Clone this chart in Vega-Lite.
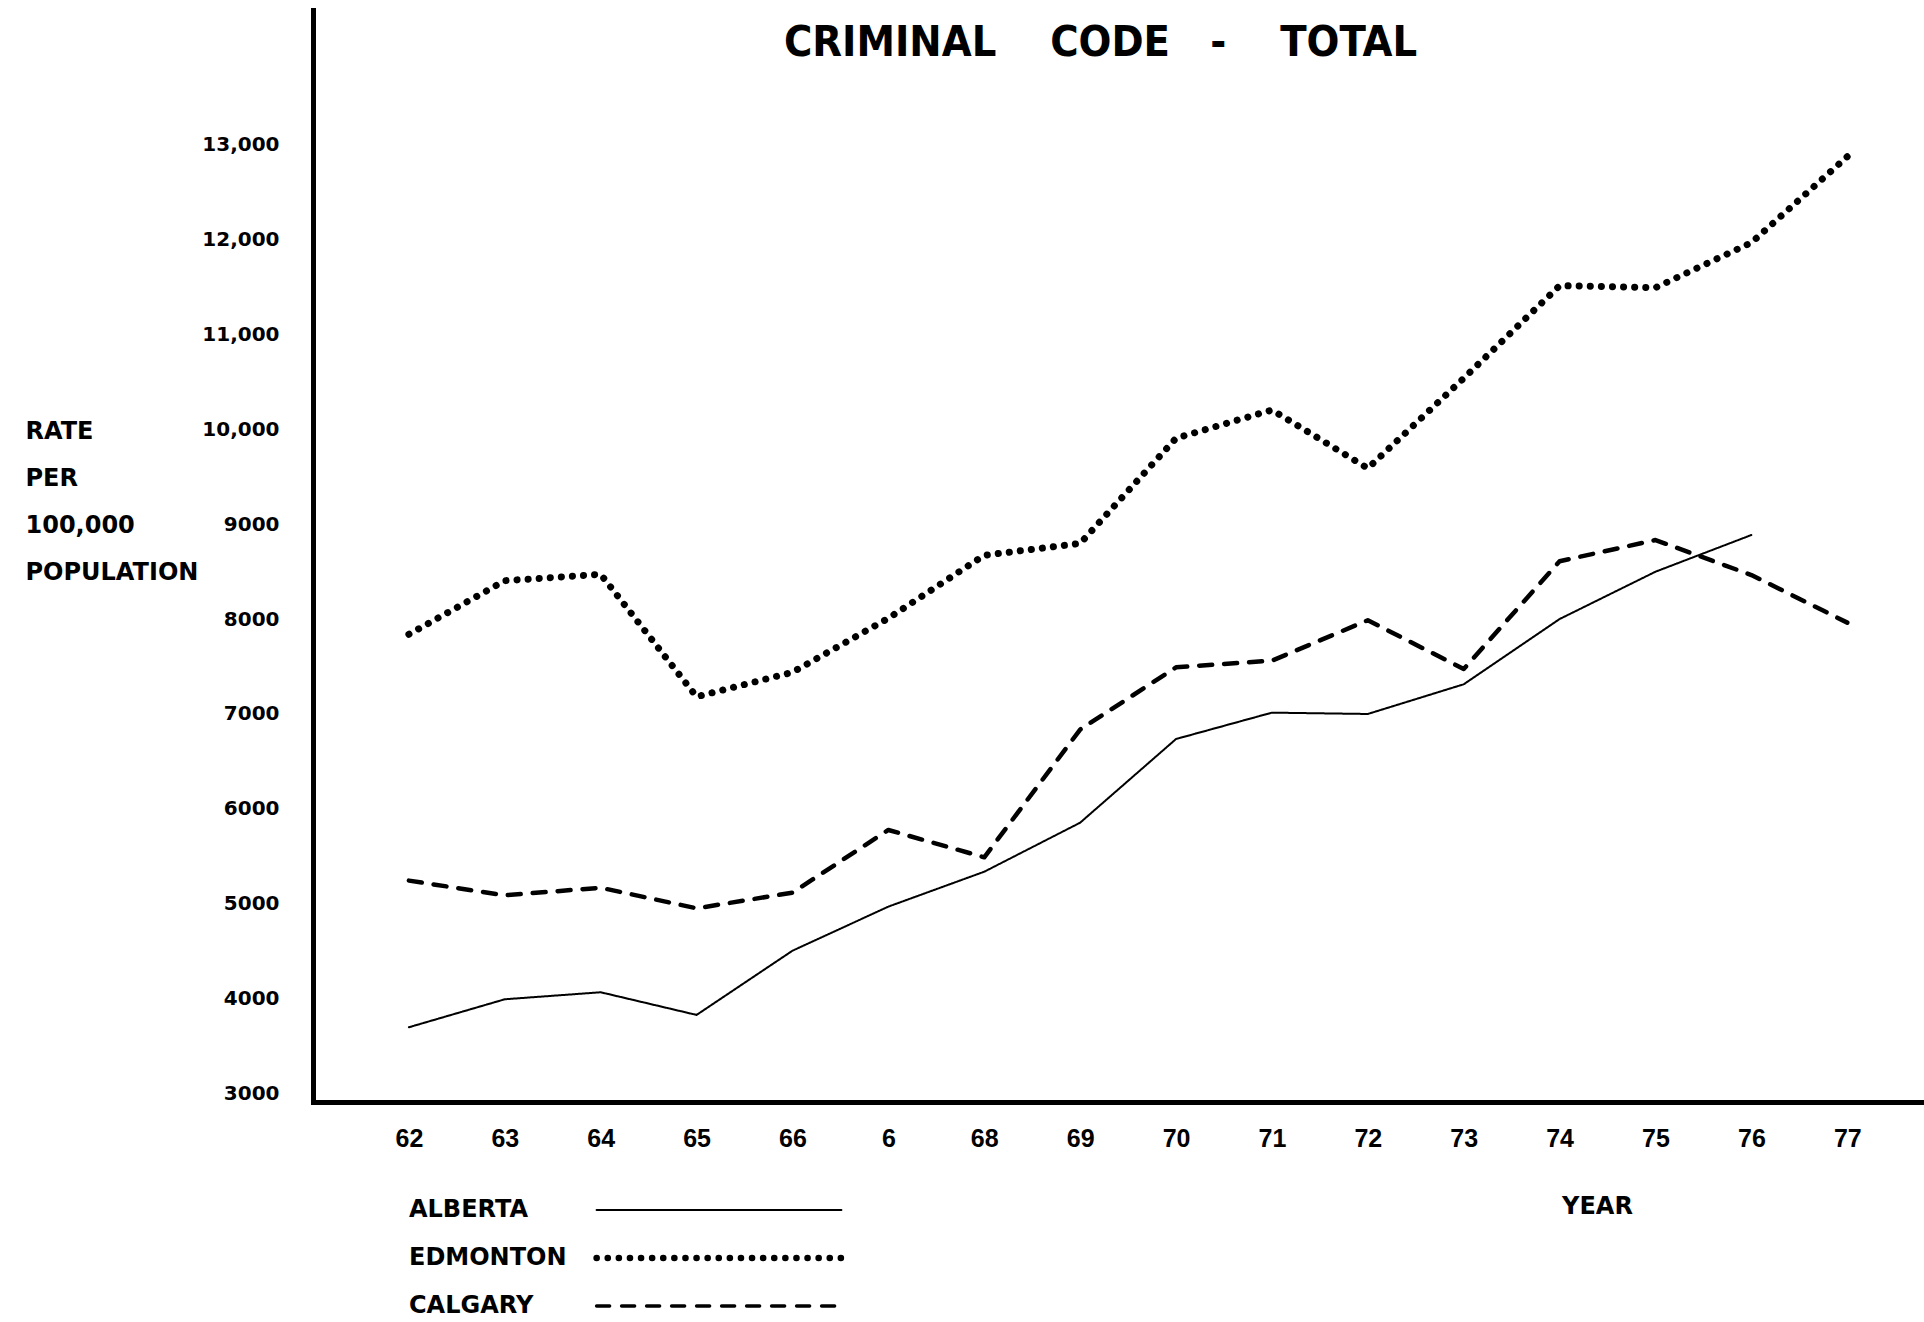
{
  "$schema": "https://vega.github.io/schema/vega-lite/v6.json",
  "width": 1611,
  "height": 1092,
  "autosize": {"type": "none"},
  "padding": {"left": 313, "top": 10, "right": 0, "bottom": 220},
  "background": "white",
  "title": {
    "text": "CRIMINAL\u00a0\u00a0\u00a0\u00a0CODE\u00a0\u00a0\u00a0-\u00a0\u00a0\u00a0\u00a0TOTAL",
    "font": "Liberation Sans Narrow, DejaVu Sans Condensed, Liberation Sans",
    "fontWeight": "bold",
    "fontSize": 43,
    "color": "black",
    "anchor": "middle",
    "frame": "group",
    "offset": -76,
    "baseline": "middle",
    "dx": -18
  },
  "config": {
    "view": {"stroke": null},
    "axis": {"grid": false, "ticks": false, "domainColor": "black", "domainWidth": 5, "domainCap": "square", "labelColor": "black", "titleColor": "black"}
  },
  "data": {
    "values": [
      {"year": 62, "series": "ALBERTA", "rate": 3696},
      {"year": 63, "series": "ALBERTA", "rate": 3991},
      {"year": 64, "series": "ALBERTA", "rate": 4065},
      {"year": 65, "series": "ALBERTA", "rate": 3826},
      {"year": 66, "series": "ALBERTA", "rate": 4503},
      {"year": 67, "series": "ALBERTA", "rate": 4968},
      {"year": 68, "series": "ALBERTA", "rate": 5336},
      {"year": 69, "series": "ALBERTA", "rate": 5853},
      {"year": 70, "series": "ALBERTA", "rate": 6735},
      {"year": 71, "series": "ALBERTA", "rate": 7013},
      {"year": 72, "series": "ALBERTA", "rate": 6999},
      {"year": 73, "series": "ALBERTA", "rate": 7312},
      {"year": 74, "series": "ALBERTA", "rate": 8000},
      {"year": 75, "series": "ALBERTA", "rate": 8499},
      {"year": 76, "series": "ALBERTA", "rate": 8886},
      {"year": 62, "series": "EDMONTON", "rate": 7839},
      {"year": 63, "series": "EDMONTON", "rate": 8404},
      {"year": 64, "series": "EDMONTON", "rate": 8472},
      {"year": 65, "series": "EDMONTON", "rate": 7181},
      {"year": 66, "series": "EDMONTON", "rate": 7439},
      {"year": 67, "series": "EDMONTON", "rate": 8008},
      {"year": 68, "series": "EDMONTON", "rate": 8672},
      {"year": 69, "series": "EDMONTON", "rate": 8797},
      {"year": 70, "series": "EDMONTON", "rate": 9906},
      {"year": 71, "series": "EDMONTON", "rate": 10204},
      {"year": 72, "series": "EDMONTON", "rate": 9589},
      {"year": 73, "series": "EDMONTON", "rate": 10538},
      {"year": 74, "series": "EDMONTON", "rate": 11515},
      {"year": 75, "series": "EDMONTON", "rate": 11494},
      {"year": 76, "series": "EDMONTON", "rate": 11968},
      {"year": 77, "series": "EDMONTON", "rate": 12875},
      {"year": 62, "series": "CALGARY", "rate": 5242},
      {"year": 63, "series": "CALGARY", "rate": 5087},
      {"year": 64, "series": "CALGARY", "rate": 5167},
      {"year": 65, "series": "CALGARY", "rate": 4950},
      {"year": 66, "series": "CALGARY", "rate": 5115},
      {"year": 67, "series": "CALGARY", "rate": 5776},
      {"year": 68, "series": "CALGARY", "rate": 5488},
      {"year": 69, "series": "CALGARY", "rate": 6835},
      {"year": 70, "series": "CALGARY", "rate": 7491},
      {"year": 71, "series": "CALGARY", "rate": 7561},
      {"year": 72, "series": "CALGARY", "rate": 7987},
      {"year": 73, "series": "CALGARY", "rate": 7473},
      {"year": 74, "series": "CALGARY", "rate": 8609},
      {"year": 75, "series": "CALGARY", "rate": 8833},
      {"year": 76, "series": "CALGARY", "rate": 8464},
      {"year": 77, "series": "CALGARY", "rate": 7962}
    ]
  },
  "encoding": {
    "x": {
      "field": "year",
      "type": "quantitative",
      "scale": {"domain": [61, 77.8], "nice": false, "zero": false},
      "axis": {
        "values": [62, 63, 64, 65, 66, 67, 68, 69, 70, 71, 72, 73, 74, 75, 76, 77],
        "labelExpr": "datum.value == 67 ? '6' : format(datum.value, 'd')",
        "labelFont": "Liberation Sans",
        "labelFontWeight": "bold",
        "labelFontSize": 25,
        "labelPadding": 24,
        "labelFlush": false,
        "labelOverlap": false,
        "title": "YEAR",
        "titleX": 1284,
        "titleY": 104,
        "titleFont": "DejaVu Sans",
        "titleFontWeight": "bold",
        "titleFontSize": 24,
        "titleBaseline": "middle",
        "titleAlign": "center"
      }
    },
    "y": {
      "field": "rate",
      "type": "quantitative",
      "scale": {"domain": [2908, 14421], "nice": false, "zero": false},
      "axis": {
        "values": [3000, 4000, 5000, 6000, 7000, 8000, 9000, 10000, 11000, 12000, 13000],
        "labelExpr": "datum.value >= 10000 ? format(datum.value, ',') : format(datum.value, 'd')",
        "labelFont": "DejaVu Sans",
        "labelFontWeight": "bold",
        "labelFontSize": 20,
        "labelPadding": 34,
        "labelBaseline": "middle",
        "title": ["RATE", "PER", "100,000", "POPULATION"],
        "titleAngle": 0,
        "titleAlign": "left",
        "titleBaseline": "middle",
        "titleLineHeight": 47,
        "titleX": -288,
        "titleY": 421,
        "titleFont": "DejaVu Sans",
        "titleFontWeight": "bold",
        "titleFontSize": 24
      }
    },
    "strokeDash": {
      "field": "series",
      "type": "nominal",
      "scale": {"domain": ["ALBERTA", "EDMONTON", "CALGARY"], "range": [[1, 0], [0.1, 11], [13, 12]]},
      "legend": {
        "orient": "none",
        "legendX": 285,
        "legendY": 1188,
        "title": null,
        "direction": "vertical",
        "symbolType": "M -10.2 0 L 10.2 0",
        "symbolSize": 576,
        "symbolStrokeColor": "black",
        "symbolOffset": 109,
        "labelFont": "DejaVu Sans",
        "labelFontWeight": "bold",
        "labelFontSize": 24,
        "labelColor": "black",
        "labelOffset": -322,
        "labelLimit": 0,
        "rowPadding": 23,
        "padding": 0,
        "encode": {
          "symbols": {
            "update": {
              "strokeCap": {"value": "round"},
              "strokeWidth": {"signal": "datum.value === 'EDMONTON' ? 6.5 : datum.value === 'CALGARY' ? 3.5 : 2"}
            }
          }
        }
      }
    }
  },
  "layer": [
    {
      "transform": [{"filter": "datum.series === 'ALBERTA'"}],
      "mark": {"type": "line", "color": "black", "strokeWidth": 2, "strokeCap": "round", "strokeJoin": "round"}
    },
    {
      "transform": [{"filter": "datum.series === 'EDMONTON'"}],
      "mark": {"type": "line", "color": "black", "strokeWidth": 7, "strokeCap": "round", "strokeJoin": "round"}
    },
    {
      "transform": [{"filter": "datum.series === 'CALGARY'"}],
      "mark": {"type": "line", "color": "black", "strokeWidth": 4.5, "strokeCap": "round", "strokeJoin": "round"}
    }
  ]
}
